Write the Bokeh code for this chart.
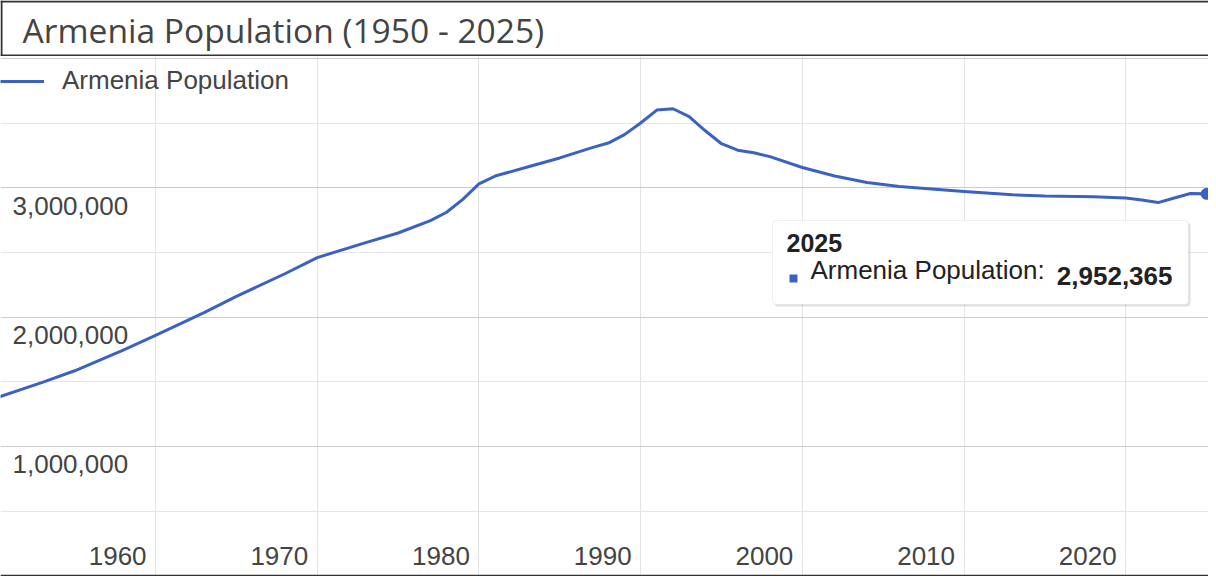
from bokeh.plotting import figure
from bokeh.layouts import column
from bokeh.models import (Range1d, Grid, FixedTicker, Span, Label, LabelSet,
                          ColumnDataSource, BoxAnnotation, Legend, LegendItem)
from bokeh.core.properties import value
from bokeh.embed import file_html
from bokeh.resources import INLINE

# ---------------- data ----------------
years = [1950, 1953, 1955, 1958, 1960, 1963, 1965, 1968, 1970, 1973, 1975,
         1977, 1978, 1979, 1980, 1981, 1983, 1985, 1987, 1988, 1989, 1990,
         1991, 1992, 1993, 1994, 1995, 1996, 1997, 1998, 2000, 2002, 2004,
         2006, 2010, 2013, 2015, 2018, 2020, 2021, 2022, 2023, 2024, 2025]
population = [1370000, 1495000, 1585000, 1745000, 1858000, 2035000, 2160000,
              2335000, 2460000, 2575000, 2650000, 2745000, 2810000, 2910000,
              3030000, 3090000, 3160000, 3230000, 3310000, 3345000, 3410000,
              3500000, 3600000, 3610000, 3550000, 3440000, 3340000, 3290000,
              3270000, 3240000, 3156000, 3090000, 3040000, 3010000, 2970000,
              2945000, 2935000, 2930000, 2920000, 2905000, 2885000, 2920000,
              2955000, 2952365]
x_ticks = [1960, 1970, 1980, 1990, 2000, 2010, 2020]
y_ticks = [1000000, 2000000, 3000000]
y_major_grid = [0, 1000000, 2000000, 3000000, 4000000]
y_minor_grid = [500000, 1500000, 2500000, 3500000]
title_text = "Armenia Population (1950 - 2025)"
series_name = "Armenia Population"

LINE_COLOR = "#3b62c2"
TEXT_COLOR = "#444444"
FONT = "Liberation Sans"
FS = "26px"
W = 1208

# ---------------- title strip ----------------
t = figure(width=W, height=56, x_range=Range1d(0, 1), y_range=Range1d(0, 1),
           x_axis_location=None, y_axis_location=None, toolbar_location=None,
           output_backend="svg", min_border=0, outline_line_color=None)
t.grid.visible = False
for loc in (55, 1):
    t.add_layout(Span(location=loc, location_units="screen", dimension="width",
                      line_color="#333333", line_width=2))
t.add_layout(Span(location=1, location_units="screen", dimension="height",
                  line_color="#333333", line_width=2))
t.add_layout(Label(x=22, y=27, x_units="screen", y_units="screen", text=title_text,
                   text_font="Open Sans", text_font_size="33.6px", text_color=TEXT_COLOR,
                   text_baseline="middle"))

# ---------------- main chart ----------------
p = figure(width=W, height=520, x_range=Range1d(1950.41, 2025.12),
           y_range=Range1d(-5000, 4014000), x_axis_location=None, y_axis_location=None,
           toolbar_location=None, output_backend="svg", min_border=0,
           outline_line_color=None)
p.grid.visible = False
p.add_layout(Grid(dimension=0, ticker=FixedTicker(ticks=x_ticks),
                  grid_line_color="#e3e3e3", grid_line_width=1))
p.add_layout(Grid(dimension=1, ticker=FixedTicker(ticks=y_major_grid, minor_ticks=y_minor_grid),
                  grid_line_color="#cccccc", grid_line_width=1,
                  minor_grid_line_color="#e6e6e6", minor_grid_line_width=1))
p.add_layout(Span(location=0, dimension="width", line_color="#333333", line_width=2))

src = ColumnDataSource(dict(x=years, y=population))
line = p.line("x", "y", source=src, line_color=LINE_COLOR, line_width=3,
              line_join="round")
p.scatter(x=[years[-1]], y=[population[-1]], size=11, color=LINE_COLOR)

# y tick labels (inside the plot, below grid lines)
ysrc = ColumnDataSource(dict(y=y_ticks, x=[12] * len(y_ticks),
                             t=[f"{v:,}" for v in y_ticks]))
p.add_layout(LabelSet(x="x", y="y", text="t", source=ysrc, x_units="screen",
                      y_offset=-9, text_baseline="top", text_font=value(FONT),
                      text_font_size=value(FS), text_color=TEXT_COLOR))

# x tick labels
xsrc = ColumnDataSource(dict(x=x_ticks, y=[12] * len(x_ticks), t=[str(v) for v in x_ticks]))
p.add_layout(LabelSet(x="x", y="y", text="t", source=xsrc, y_units="screen",
                      x_offset=-9, text_align="right", text_baseline="alphabetic",
                      text_font=value(FONT), text_font_size=value(FS),
                      text_color=TEXT_COLOR))

# legend
legend = Legend(items=[LegendItem(label=series_name, renderers=[line])],
                location=(0, 480), glyph_width=44, glyph_height=24, label_height=24,
                label_standoff=18, padding=0, margin=0, spacing=0,
                border_line_color=None, background_fill_alpha=0,
                label_text_font=FONT, label_text_font_size=FS,
                label_text_color=TEXT_COLOR)
p.add_layout(legend, "center")

# tooltip for the last point
def sbox(l, r, top, b, **kw):
    return BoxAnnotation(left=l, right=r, top=top, bottom=b,
                         left_units="screen", right_units="screen",
                         top_units="screen", bottom_units="screen", **kw)

p.add_layout(sbox(774, 1190, 354, 270, fill_color="#000000", fill_alpha=0.12,
                  line_color=None, border_radius=4))
p.add_layout(sbox(772, 1188, 356, 272, fill_color="white", fill_alpha=1,
                  line_color="#cccccc", line_width=1, border_radius=4))
p.add_layout(Label(x=786, y=325, x_units="screen", y_units="screen",
                   text=str(years[-1]), text_font=FONT, text_font_size="25px",
                   text_font_style="bold", text_color="#222222"))
p.add_layout(sbox(789, 797, 302, 294, fill_color=LINE_COLOR, fill_alpha=1, line_color=None))
p.add_layout(Label(x=810, y=292, x_units="screen", y_units="screen",
                   text=series_name + ":", text_font=FONT, text_font_size=FS,
                   text_color="#222222"))
p.add_layout(Label(x=1172, y=292, x_units="screen", y_units="screen",
                   text=f"{population[-1]:,}", text_font=FONT, text_font_size=FS,
                   text_font_style="bold", text_color="#222222", text_align="right"))

layout = column(t, p, spacing=0)
open("out.html", "w").write(file_html(layout, INLINE))
